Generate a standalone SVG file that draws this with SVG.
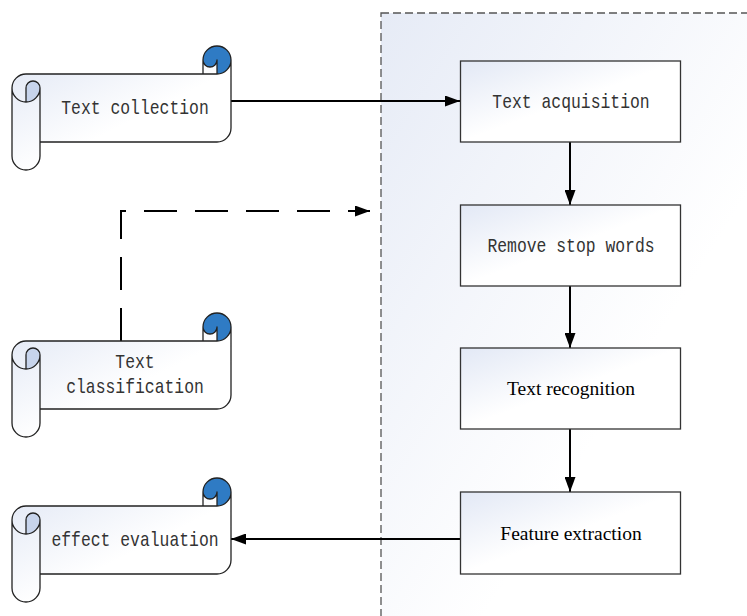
<svg xmlns="http://www.w3.org/2000/svg" xmlns:xlink="http://www.w3.org/1999/xlink" width="747" height="616" viewBox="0 0 747 616">
<style>
.box{stroke:#333;stroke-width:1.3;fill:url(#boxGrad)}
.mono{font-family:"Liberation Mono","DejaVu Sans Mono",monospace;font-size:20px;fill:#333;text-anchor:middle}
.serif{font-family:"Liberation Serif","Times New Roman",serif;font-size:19.5px;fill:#000;text-anchor:middle}
.conn{stroke:#000;stroke-width:2;fill:none}
.outline{fill:none;stroke:#222;stroke-width:1.3;stroke-linejoin:round}
</style>
<defs>
<linearGradient id="boxGrad" x1="0" y1="0" x2="1" y2="1">
<stop offset="0" stop-color="#e2e8f5"/>
<stop offset="0.5" stop-color="#ffffff"/>
<stop offset="1" stop-color="#ffffff"/>
</linearGradient>
<linearGradient id="scrollGrad" x1="0" y1="0" x2="1" y2="1">
<stop offset="0" stop-color="#e2e8f5"/>
<stop offset="0.55" stop-color="#ffffff"/>
<stop offset="1" stop-color="#ffffff"/>
</linearGradient>
<linearGradient id="contGrad" x1="0" y1="0" x2="1" y2="1">
<stop offset="0" stop-color="#e6ebf6"/>
<stop offset="0.6" stop-color="#ffffff"/>
<stop offset="1" stop-color="#ffffff"/>
</linearGradient>
<marker id="arrow" markerUnits="userSpaceOnUse" markerWidth="15" markerHeight="11" refX="15" refY="5.5" orient="auto">
<path d="M0,0 L15,5.5 L0,11 Z" fill="#000"/>
</marker>
<g id="scroll">
<path d="M219,14 A14,14 0 0 1 205,28 L205,14 A7,7 0 0 1 191,14 L191,28 L14,28 A14,14 0 0 0 0,42 L0,110 A14,14 0 0 0 28,110 L28,96 L205,96 A14,14 0 0 0 219,82 Z" fill="url(#scrollGrad)"/>
<path d="M14,56 A14,14 0 0 0 28,42 A7,7 0 0 0 14,42 Z" fill="#c7d4ec"/>
<path d="M205,28 A14,14 0 1 0 191,14 A7,7 0 0 0 205,14 Z" fill="#2f7bc4"/>
<path class="outline" d="M0,42 A14,14 0 0 1 14,28 L191,28 L191,14 A14,14 0 0 1 219,14 L219,82 A14,14 0 0 1 205,96 L28,96 L28,110 A14,14 0 0 1 0,110 Z M191,28 L205,28 A14,14 0 0 0 219,14 M205,28 L205,14 A7,7 0 0 1 191,14 M14,56 L14,42 A7,7 0 0 1 28,42 A14,14 0 0 1 0,42 M28,42 L28,96"/>
</g>
</defs>

<g id="container">
<rect x="381" y="13" width="400" height="640" fill="url(#contGrad)" stroke="#555" stroke-width="1.3" stroke-dasharray="8 4"/>
</g>

<g id="connectors">
<path class="conn" d="M231,101 H460" marker-end="url(#arrow)"/>
<path class="conn" d="M570,142 V205" marker-end="url(#arrow)"/>
<path class="conn" d="M570,286 V348" marker-end="url(#arrow)"/>
<path class="conn" d="M570,429 V492" marker-end="url(#arrow)"/>
<path class="conn" d="M460,539 H231" marker-end="url(#arrow)"/>
<path class="conn" d="M121,341 V211 H370" stroke-dasharray="33 18" marker-end="url(#arrow)"/>
</g>

<g id="text-collection">
<use xlink:href="#scroll" transform="translate(12,46)"/>
<text class="mono" transform="translate(135,114) scale(0.82,1)">Text collection</text>
</g>

<g id="text-classification">
<use xlink:href="#scroll" transform="translate(12,313)"/>
<text class="mono" transform="translate(135,368) scale(0.82,1)">Text</text>
<text class="mono" transform="translate(135,393) scale(0.82,1)">classification</text>
</g>

<g id="effect-evaluation">
<use xlink:href="#scroll" transform="translate(12,478)"/>
<text class="mono" transform="translate(135,546) scale(0.82,1)">effect evaluation</text>
</g>

<g id="text-acquisition">
<rect class="box" x="460.5" y="61" width="220" height="81"/>
<text class="mono" transform="translate(571,108) scale(0.82,1)">Text acquisition</text>
</g>

<g id="remove-stop-words">
<rect class="box" x="460.5" y="205" width="220" height="81"/>
<text class="mono" transform="translate(571,252) scale(0.82,1)">Remove stop words</text>
</g>

<g id="text-recognition">
<rect class="box" x="460.5" y="348" width="220" height="81"/>
<text class="serif" x="571" y="395">Text recognition</text>
</g>

<g id="feature-extraction">
<rect class="box" x="460.5" y="492" width="220" height="82"/>
<text class="serif" x="571" y="540">Feature extraction</text>
</g>
</svg>
